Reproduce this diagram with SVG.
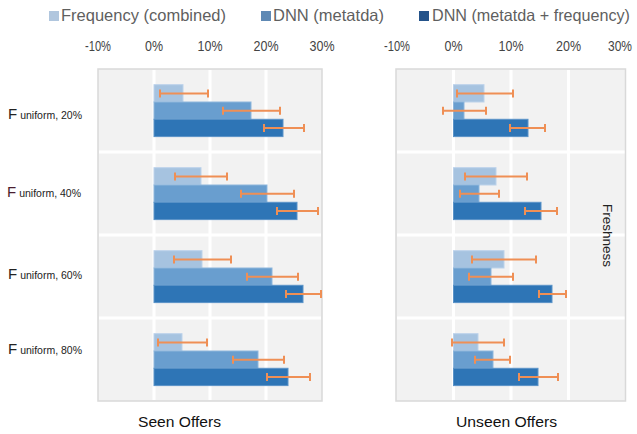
<svg xmlns="http://www.w3.org/2000/svg" width="637" height="434" viewBox="0 0 637 434">
<style>
.panel{fill:#f2f2f2;stroke:#d9d9d9;stroke-width:1.5}
.grid{stroke:#ffffff;stroke-width:3}
.b1{fill:#a6c3e0;stroke:#bcd2ea;stroke-width:1}
.b2{fill:#699ecf;stroke:#8db6dc;stroke-width:1}
.b3{fill:#2e75b6;stroke:#5a93c8;stroke-width:1}
.err{stroke:#ef8f55;stroke-width:2;fill:none}
.tick{font-family:"Liberation Sans",Arial,sans-serif;font-size:15px;fill:#444444;text-anchor:middle}
.leg{font-family:"Liberation Sans",Arial,sans-serif;font-size:16.5px;fill:#5f5f5f}
.rl{font-family:"Liberation Sans",Arial,sans-serif;fill:#222222}
.ax{font-family:"Liberation Sans",Arial,sans-serif;font-size:15.5px;fill:#111111}
</style>
<rect width="637" height="434" fill="#ffffff"/>

<g id="legend">
<rect x="49" y="11" width="10" height="10" fill="#b0c6de"/>
<text class="leg" x="61" y="21" textLength="165" lengthAdjust="spacingAndGlyphs">Frequency (combined)</text>
<rect x="261" y="11" width="10" height="10" fill="#5f89b4"/>
<text class="leg" x="273" y="21" textLength="111" lengthAdjust="spacingAndGlyphs">DNN (metatda)</text>
<rect x="419" y="11" width="10" height="10" fill="#24538a"/>
<text class="leg" x="432" y="21" textLength="198" lengthAdjust="spacingAndGlyphs" font-size="15.5">DNN (metatda + frequency)</text>
</g>

<g id="ticks">
<text class="tick" x="98" y="51" textLength="26" lengthAdjust="spacingAndGlyphs">-10%</text>
<text class="tick" x="154" y="51" textLength="18" lengthAdjust="spacingAndGlyphs">0%</text>
<text class="tick" x="210" y="51" textLength="25" lengthAdjust="spacingAndGlyphs">10%</text>
<text class="tick" x="266" y="51" textLength="25" lengthAdjust="spacingAndGlyphs">20%</text>
<text class="tick" x="322" y="51" textLength="25" lengthAdjust="spacingAndGlyphs">30%</text>
<text class="tick" x="397" y="51" textLength="26" lengthAdjust="spacingAndGlyphs">-10%</text>
<text class="tick" x="453.5" y="51" textLength="18" lengthAdjust="spacingAndGlyphs">0%</text>
<text class="tick" x="511" y="51" textLength="25" lengthAdjust="spacingAndGlyphs">10%</text>
<text class="tick" x="568.5" y="51" textLength="25" lengthAdjust="spacingAndGlyphs">20%</text>
<text class="tick" x="632" y="51" style="text-anchor:end" font-size="14" textLength="24" lengthAdjust="spacingAndGlyphs">30%</text>
</g>

<g id="row-labels">
<text class="rl" x="8" y="119"><tspan font-size="15">F</tspan><tspan font-size="10.5" dx="3">uniform, 20%</tspan></text>
<text class="rl" x="7" y="197"><tspan font-size="15" fill="#4a1e30">F</tspan><tspan font-size="10.5" dx="3">uniform, 40%</tspan></text>
<text class="rl" x="8" y="279"><tspan font-size="15">F</tspan><tspan font-size="10.5" dx="3">uniform, 60%</tspan></text>
<text class="rl" x="8" y="354"><tspan font-size="15">F</tspan><tspan font-size="10.5" dx="3">uniform, 80%</tspan></text>
</g>

<g id="panel-seen">
<rect class="panel" x="98" y="69" width="224" height="332"/>
<line class="grid" x1="154" y1="70" x2="154" y2="400"/>
<line class="grid" x1="210" y1="70" x2="210" y2="400"/>
<line class="grid" x1="266" y1="70" x2="266" y2="400"/>
<line class="grid" x1="99" y1="152" x2="321" y2="152"/>
<line class="grid" x1="99" y1="235" x2="321" y2="235"/>
<line class="grid" x1="99" y1="318" x2="321" y2="318"/>
<rect class="b1" x="154" y="84.7" width="29" height="17.3"/>
<rect class="b2" x="154" y="102" width="97" height="17.3"/>
<rect class="b3" x="154" y="119.3" width="129" height="17.3"/>
<rect class="b1" x="154" y="167.7" width="47" height="17.3"/>
<rect class="b2" x="154" y="185" width="113" height="17.3"/>
<rect class="b3" x="154" y="202.3" width="143" height="17.3"/>
<rect class="b1" x="154" y="250.7" width="48" height="17.3"/>
<rect class="b2" x="154" y="268" width="118" height="17.3"/>
<rect class="b3" x="154" y="285.3" width="149" height="17.3"/>
<rect class="b1" x="154" y="333.7" width="28" height="17.3"/>
<rect class="b2" x="154" y="351" width="104" height="17.3"/>
<rect class="b3" x="154" y="368.3" width="134" height="17.3"/>
</g>

<g id="panel-unseen">
<rect class="panel" x="396" y="69" width="229.5" height="332"/>
<line class="grid" x1="453.5" y1="70" x2="453.5" y2="400"/>
<line class="grid" x1="511" y1="70" x2="511" y2="400"/>
<line class="grid" x1="568.5" y1="70" x2="568.5" y2="400"/>
<line class="grid" x1="397" y1="152" x2="624.5" y2="152"/>
<line class="grid" x1="397" y1="235" x2="624.5" y2="235"/>
<line class="grid" x1="397" y1="318" x2="624.5" y2="318"/>
<rect class="b1" x="453.5" y="84.7" width="30.5" height="17.3"/>
<rect class="b2" x="453.5" y="102" width="10.5" height="17.3"/>
<rect class="b3" x="453.5" y="119.3" width="74.5" height="17.3"/>
<rect class="b1" x="453.5" y="167.7" width="42.5" height="17.3"/>
<rect class="b2" x="453.5" y="185" width="25.5" height="17.3"/>
<rect class="b3" x="453.5" y="202.3" width="87.5" height="17.3"/>
<rect class="b1" x="453.5" y="250.7" width="50.5" height="17.3"/>
<rect class="b2" x="453.5" y="268" width="37.5" height="17.3"/>
<rect class="b3" x="453.5" y="285.3" width="98.5" height="17.3"/>
<rect class="b1" x="453.5" y="333.7" width="24.5" height="17.3"/>
<rect class="b2" x="453.5" y="351" width="39.5" height="17.3"/>
<rect class="b3" x="453.5" y="368.3" width="84.5" height="17.3"/>
<text class="rl" font-size="13.5" transform="translate(603,204) rotate(90)">Freshness</text>
</g>

<g id="connectors">
<path class="err" d="M160 93.4H208M160 89.4V97.4M208 89.4V97.4"/>
<path class="err" d="M223 110.7H280M223 106.7V114.7M280 106.7V114.7"/>
<path class="err" d="M264 128H304M264 124V132M304 124V132"/>
<path class="err" d="M175 176.4H227M175 172.4V180.4M227 172.4V180.4"/>
<path class="err" d="M241 193.7H294M241 189.7V197.7M294 189.7V197.7"/>
<path class="err" d="M277 211H318M277 207V215M318 207V215"/>
<path class="err" d="M174 259.4H231M174 255.4V263.4M231 255.4V263.4"/>
<path class="err" d="M247 276.7H298M247 272.7V280.7M298 272.7V280.7"/>
<path class="err" d="M286 294H321M286 290V298M321 290V298"/>
<path class="err" d="M158 342.4H207M158 338.4V346.4M207 338.4V346.4"/>
<path class="err" d="M233 359.7H284M233 355.7V363.7M284 355.7V363.7"/>
<path class="err" d="M267 377H310M267 373V381M310 373V381"/>
<path class="err" d="M457 93.4H513M457 89.4V97.4M513 89.4V97.4"/>
<path class="err" d="M443 110.7H486M443 106.7V114.7M486 106.7V114.7"/>
<path class="err" d="M510 128H545M510 124V132M545 124V132"/>
<path class="err" d="M465 176.4H527M465 172.4V180.4M527 172.4V180.4"/>
<path class="err" d="M460 193.7H499M460 189.7V197.7M499 189.7V197.7"/>
<path class="err" d="M525 211H557M525 207V215M557 207V215"/>
<path class="err" d="M472 259.4H536M472 255.4V263.4M536 255.4V263.4"/>
<path class="err" d="M469 276.7H513M469 272.7V280.7M513 272.7V280.7"/>
<path class="err" d="M539 294H566M539 290V298M566 290V298"/>
<path class="err" d="M452 342.4H504M452 338.4V346.4M504 338.4V346.4"/>
<path class="err" d="M475 359.7H510M475 355.7V363.7M510 355.7V363.7"/>
<path class="err" d="M519 377H558M519 373V381M558 373V381"/>
</g>

<g id="axis-titles">
<text class="ax" x="138" y="427" textLength="83" lengthAdjust="spacingAndGlyphs">Seen Offers</text>
<text class="ax" x="456" y="427" textLength="101" lengthAdjust="spacingAndGlyphs">Unseen Offers</text>
</g>
</svg>
